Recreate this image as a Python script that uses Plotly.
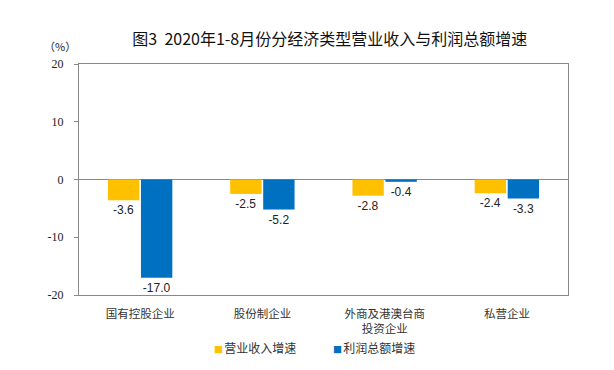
import plotly.graph_objects as go

categories = ["国有控股企业", "股份制企业", "外商及港澳台商<br>投资企业", "私营企业"]
revenue_growth = [-3.6, -2.5, -2.8, -2.4]
profit_growth = [-17.0, -5.2, -0.4, -3.3]
y_ticks = [-20, -10, 0, 10, 20]
series_names = ["营业收入增速", "利润总额增速"]
series_colors = ["#FFC000", "#0070C0"]

cjk = "Noto Sans CJK SC"
fig = go.Figure()
for name, vals, col in zip(series_names, [revenue_growth, profit_growth], series_colors):
    fig.add_trace(go.Bar(
        x=categories, y=vals, name=name, showlegend=False,
        marker=dict(color=col, line=dict(width=0)),
        text=[f"{v:.1f}" for v in vals], textposition="outside",
        textfont=dict(family="Liberation Sans, Arial", size=12, color="#222"),
        cliponaxis=False,
    ))

# page body has an 8px margin, so the figure is 8px smaller than the window
fig.update_layout(
    width=606, height=362,
    margin=dict(l=71, r=46, t=56, b=75, autoexpand=False),
    paper_bgcolor="white", plot_bgcolor="white",
    barmode="group", bargap=0.46, bargroupgap=0.05,
    title=dict(text="图3  2020年1-8月份分经济类型营业收入与利润总额增速",
               x=0.531, xanchor="center", y=0.912, yanchor="middle",
               font=dict(family=cjk, size=16, color="#111")),
    showlegend=False,
)
fig.update_xaxes(
    showline=True, linecolor="#888", linewidth=1, mirror=True, automargin=False,
    ticks="", tickfont=dict(family=cjk, size=11.5, color="#333"),
    ticklabelstandoff=8,
    showgrid=False,
)
fig.update_yaxes(
    range=[-20, 20], tickvals=y_ticks, ticktext=[str(v) for v in y_ticks],
    showline=True, linecolor="#888", linewidth=1, mirror=True, automargin=False,
    ticks="outside", ticklen=4, tickcolor="#888", ticklabelstandoff=8,
    tickfont=dict(family="Liberation Serif", size=12, color="#222"),
    showgrid=False, zeroline=True, zerolinecolor="#888", zerolinewidth=1,
)
fig.add_annotation(text="（%）", xref="paper", yref="paper", x=-0.076, y=1.078,
                   xanchor="left", yanchor="middle", showarrow=False,
                   font=dict(family=cjk, size=11, color="#222"))
legend_x = [0.272, 0.515]
for name, col, lx in zip(series_names, series_colors, legend_x):
    fig.add_annotation(
        text=f"<span style='color:{col}; font-size:9px'>■</span><span style='font-size:5px'> </span>{name}",
        xref="paper", yref="paper", x=lx, y=-0.228, xanchor="left", yanchor="middle",
        showarrow=False, font=dict(family=cjk, size=12, color="#333"))
fig.write_html("out.html")
